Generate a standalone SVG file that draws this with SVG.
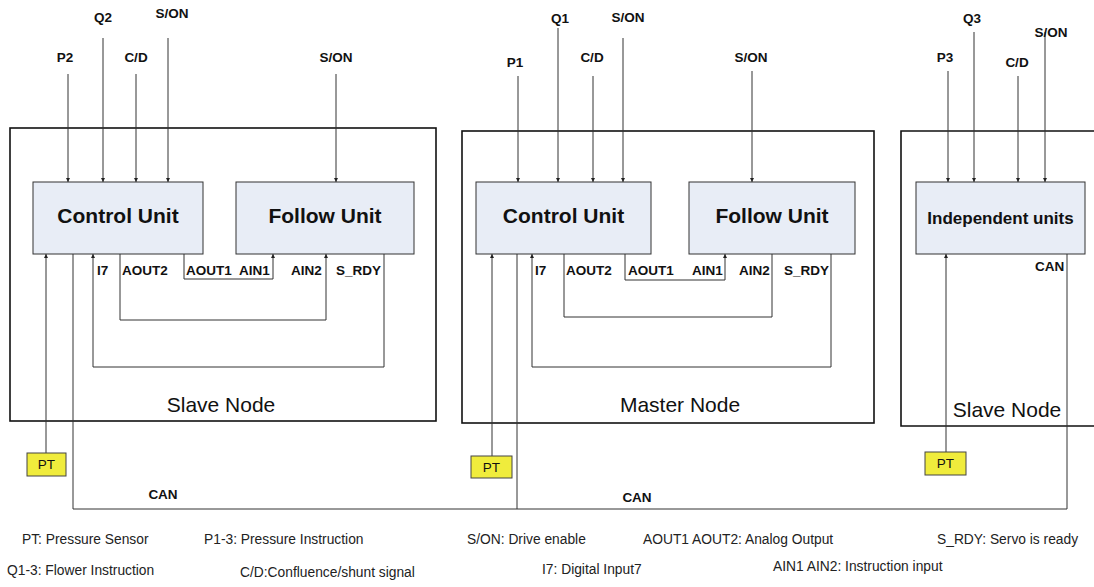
<svg xmlns="http://www.w3.org/2000/svg" width="1094" height="587" viewBox="0 0 1094 587">
<defs>
<marker id="ah" viewBox="0 0 6 6" refX="6" refY="3" markerWidth="4" markerHeight="4" markerUnits="userSpaceOnUse" orient="auto"><path d="M0,0 L6,3 L0,6 z" fill="#222"/></marker>
<style>
text{font-family:"Liberation Sans",Arial,sans-serif;fill:#111}
.outer{fill:none;stroke:#111;stroke-width:1.6}
.unit{fill:#e8edf6;stroke:#333;stroke-width:1}
.wire{fill:none;stroke:#333;stroke-width:1}
.arr{marker-end:url(#ah)}
.lbl{font-weight:bold;font-size:13.5px}
.mid{text-anchor:middle}
.utitle{font-weight:bold;font-size:21px;text-anchor:middle}
.ntitle{font-size:21px;text-anchor:middle}
.ptbox{fill:#f0ec3c;stroke:#444;stroke-width:1}
.pttext{font-size:13.5px;text-anchor:middle}
.legend{font-size:13.8px;fill:#222}
</style>
</defs>
<rect width="1094" height="587" fill="#fff"/>

<g id="slave-node-left">
<rect class="outer" x="10" y="128" width="426" height="293"/>
<text class="ntitle" x="221" y="412">Slave Node</text>
</g>
<g id="master-node">
<rect class="outer" x="462" y="131" width="412" height="292"/>
<text class="ntitle" x="680" y="412">Master Node</text>
</g>
<g id="slave-node-right">
<path class="outer" d="M1098,131 H901 V426 H1098"/>
<text class="ntitle" x="1007" y="417">Slave Node</text>
</g>

<g id="connectors">
<path class="wire arr" d="M68,74 V182"/>
<path class="wire arr" d="M103,38 V182"/>
<path class="wire arr" d="M136,74 V182"/>
<path class="wire arr" d="M168,38 V182"/>
<path class="wire arr" d="M336,74 V182"/>
<path class="wire arr" d="M518,76 V182"/>
<path class="wire arr" d="M558,28 V182"/>
<path class="wire arr" d="M593,76 V182"/>
<path class="wire arr" d="M623,38 V182"/>
<path class="wire arr" d="M752,71 V182"/>
<path class="wire arr" d="M948,71 V182"/>
<path class="wire arr" d="M974,32 V182"/>
<path class="wire arr" d="M1018,76 V182"/>
<path class="wire arr" d="M1045,32 V182"/>

<path class="wire arr" d="M46,453 V254"/>
<path class="wire arr" d="M384,254 V367 H93 V254"/>
<path class="wire arr" d="M120,254 V320 H326 V254"/>
<path class="wire arr" d="M184,254 V279 H273 V254"/>

<path class="wire arr" d="M492,456 V254"/>
<path class="wire arr" d="M831,254 V367 H532 V254"/>
<path class="wire" d="M564,254 V317 H772 V254"/>
<path class="wire arr" d="M625,254 V280 H725 V254"/>

<path class="wire arr" d="M946,452 V254"/>

<path class="wire" d="M73,254 V509 H1067 V254"/>
<path class="wire" d="M517,254 V509"/>

<text class="lbl mid" x="103" y="22">Q2</text>
<text class="lbl mid" x="172" y="18">S/ON</text>
<text class="lbl mid" x="65" y="62">P2</text>
<text class="lbl mid" x="136" y="62">C/D</text>
<text class="lbl mid" x="336" y="62">S/ON</text>

<text class="lbl mid" x="560" y="23">Q1</text>
<text class="lbl mid" x="628" y="22">S/ON</text>
<text class="lbl mid" x="515" y="67">P1</text>
<text class="lbl mid" x="592" y="62">C/D</text>
<text class="lbl mid" x="751" y="62">S/ON</text>

<text class="lbl mid" x="972" y="23">Q3</text>
<text class="lbl mid" x="1051" y="37">S/ON</text>
<text class="lbl mid" x="945" y="62">P3</text>
<text class="lbl mid" x="1017" y="67">C/D</text>

<text class="lbl" x="97" y="275">I7</text>
<text class="lbl" x="122" y="275">AOUT2</text>
<text class="lbl" x="186" y="275">AOUT1</text>
<text class="lbl" x="239" y="275">AIN1</text>
<text class="lbl" x="291" y="275">AIN2</text>
<text class="lbl" x="336" y="275">S_RDY</text>

<text class="lbl" x="535" y="275">I7</text>
<text class="lbl" x="566" y="275">AOUT2</text>
<text class="lbl" x="628" y="275">AOUT1</text>
<text class="lbl" x="692" y="275">AIN1</text>
<text class="lbl" x="739" y="275">AIN2</text>
<text class="lbl" x="784" y="275">S_RDY</text>

<text class="lbl" x="1035" y="271">CAN</text>
<text class="lbl mid" x="163" y="499">CAN</text>
<text class="lbl mid" x="637" y="502">CAN</text>
</g>

<g id="control-unit-left">
<rect class="unit" x="33" y="182" width="170" height="72"/>
<text class="utitle" x="118" y="223">Control Unit</text>
</g>
<g id="follow-unit-left">
<rect class="unit" x="236" y="182" width="178" height="72"/>
<text class="utitle" x="325" y="223">Follow Unit</text>
</g>
<g id="control-unit-master">
<rect class="unit" x="476" y="182" width="175" height="72"/>
<text class="utitle" x="563.5" y="223">Control Unit</text>
</g>
<g id="follow-unit-master">
<rect class="unit" x="689" y="182" width="166" height="72"/>
<text class="utitle" x="772" y="223">Follow Unit</text>
</g>
<g id="independent-units">
<rect class="unit" x="916" y="182" width="169" height="72"/>
<text class="utitle" x="1000.5" y="224" style="font-size:17px">Independent units</text>
</g>

<g id="pt-left">
<rect class="ptbox" x="27" y="453" width="39" height="23"/>
<text class="pttext" x="46.5" y="469">PT</text>
</g>
<g id="pt-master">
<rect class="ptbox" x="471" y="456" width="41" height="22"/>
<text class="pttext" x="491.5" y="472">PT</text>
</g>
<g id="pt-right">
<rect class="ptbox" x="925" y="452" width="41" height="23"/>
<text class="pttext" x="945.5" y="468">PT</text>
</g>

<g id="legend">
<text class="legend" x="22" y="544">PT: Pressure Sensor</text>
<text class="legend" x="204" y="544">P1-3: Pressure Instruction</text>
<text class="legend" x="467" y="544">S/ON: Drive enable</text>
<text class="legend" x="643" y="544">AOUT1 AOUT2: Analog Output</text>
<text class="legend" x="937" y="544">S_RDY: Servo is ready</text>
<text class="legend" x="7" y="575">Q1-3: Flower Instruction</text>
<text class="legend" x="240" y="577">C/D:Confluence/shunt signal</text>
<text class="legend" x="542" y="574">I7: Digital Input7</text>
<text class="legend" x="773" y="571">AIN1 AIN2: Instruction input</text>
</g>
</svg>
